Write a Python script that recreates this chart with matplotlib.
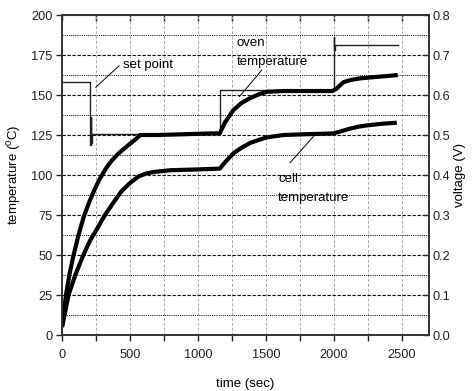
import numpy as np
import matplotlib
matplotlib.use("Agg")
import matplotlib.pyplot as plt
from matplotlib.ticker import MultipleLocator

plt.rcParams['font.family'] = ['Liberation Sans', 'DejaVu Sans']
plt.rcParams['mathtext.fontset'] = 'custom'
plt.rcParams['mathtext.rm'] = 'Liberation Sans'
plt.rcParams['mathtext.it'] = 'Liberation Sans:italic'

# oven temperature (thick upper curve)
oven_t = [0, 15, 29, 55, 85, 120, 160, 200, 240, 280, 330, 366, 410, 450, 500, 537, 575, 700, 900, 1100, 1160,
          1200, 1260, 1320, 1383, 1450, 1506, 1630, 1800, 1990, 2020, 2070, 2130, 2193, 2270, 2340, 2410, 2470]
oven_T = [5, 15, 25, 38, 50, 62, 74, 83, 91, 98, 105, 109, 113, 116, 119.5, 122, 125, 125, 125.5, 126, 126,
          133, 140.5, 145, 148, 150.5, 152, 152.5, 152.5, 152.5, 154, 158, 159.5, 160.4, 161, 161.5, 162, 162.5]

# cell temperature (thick lower curve)
cell_t = [0, 20, 48, 100, 157, 206, 255, 316, 380, 439, 500, 561, 620, 684, 800, 1000, 1160,
          1210, 1260, 1320, 1383, 1450, 1506, 1628, 1800, 1997, 2060, 2119, 2180, 2242, 2350, 2463]
cell_T = [5, 13, 25, 38, 50, 59, 66, 75, 83, 90, 95, 99, 101, 102, 103, 103.5, 104,
          109, 113.5, 117, 120, 122, 123.5, 125, 125.5, 126, 127.5, 129, 130.2, 131, 132, 132.7]

# set point (thin line)
set_t = [0, 208, 208, 212, 212, 216, 216, 220, 220, 1165, 1165, 2000, 2000, 2003, 2003, 2006, 2006, 2470]
set_T = [158.3, 158.3, 119, 119, 136, 136, 120, 120, 125.5, 125.5, 153.3, 153.3, 186.4, 186.4, 178, 178, 181.2, 181.2]

fig = plt.figure(figsize=(4.73, 3.91), dpi=100)
ax = fig.add_axes([0.1311, 0.1432, 0.7759, 0.8184])

ax.plot(set_t, set_T, color='#222222', lw=1.0, zorder=3)
ax.plot(oven_t, oven_T, color='black', lw=3.0, solid_capstyle='butt', solid_joinstyle='round', zorder=4)
ax.plot(cell_t, cell_T, color='black', lw=3.0, solid_capstyle='butt', solid_joinstyle='round', zorder=4)

ax.set_xlim(0, 2700)
ax.set_ylim(0, 200)
ax.xaxis.set_major_locator(MultipleLocator(500))
ax.xaxis.set_minor_locator(MultipleLocator(250))
ax.yaxis.set_major_locator(MultipleLocator(25))
ax.yaxis.set_minor_locator(MultipleLocator(12.5))

ax.grid(True, axis='x', which='both', color='#aaaaaa', ls=(0, (3, 2)), lw=0.7)
ax.grid(True, axis='y', which='major', color='black', ls=(0, (3, 1.5)), lw=0.8)
ax.grid(True, axis='y', which='minor', color='black', ls=(0, (1, 1.2)), lw=0.7)
ax.set_axisbelow(True)

ax.tick_params(axis='x', which='both', direction='out', length=4, width=1, pad=6,
               labelsize=9.2, colors='#222222')
ax.tick_params(axis='y', which='major', direction='out', length=4, width=1, pad=3,
               labelsize=9.2, colors='#222222')
ax.tick_params(axis='y', which='minor', length=0)
for s in ax.spines.values():
    s.set_linewidth(1.2)
    s.set_color('#333333')

top = ax.secondary_xaxis('top')
top.xaxis.set_major_locator(MultipleLocator(250))
top.tick_params(direction='in', length=4, width=1, labeltop=False)
top.spines['top'].set_linewidth(1.2)
top.spines['top'].set_color('#333333')

ax2 = ax.twinx()
ax2.set_ylim(0, 0.8)
ax2.yaxis.set_major_locator(MultipleLocator(0.1))
ax2.yaxis.set_major_formatter(plt.FormatStrFormatter('%.1f'))
ax2.tick_params(axis='y', direction='in', length=4, width=1, pad=2.5,
                labelsize=9.2, colors='#222222')
for s in ax2.spines.values():
    s.set_linewidth(1.2)
    s.set_color('#333333')

ax.set_xlabel('time (sec)', fontsize=9.5, labelpad=12)
ax.set_ylabel(r'temperature ($^0$C)', fontsize=9.5, labelpad=6)
ax2.set_ylabel('voltage (V)', fontsize=9.5, labelpad=3)

ax.text(450, 168.5, 'set point', fontsize=9.5, va='center', ha='left')
ax.plot([248, 420], [154.8, 168.3], color='black', lw=0.7)

ax.text(1285, 182.7, 'oven', fontsize=9.5, va='center', ha='left')
ax.text(1285, 170.8, 'temperature', fontsize=9.5, va='center', ha='left')
ax.plot([1305, 1470], [149, 165.6], color='black', lw=0.7)

ax.text(1590, 97.3, 'cell', fontsize=9.5, va='center', ha='left')
ax.text(1590, 85.4, 'temperature', fontsize=9.5, va='center', ha='left')
ax.plot([1678, 1849], [107.7, 124], color='black', lw=0.7)

fig.savefig('out.png', dpi=100)
